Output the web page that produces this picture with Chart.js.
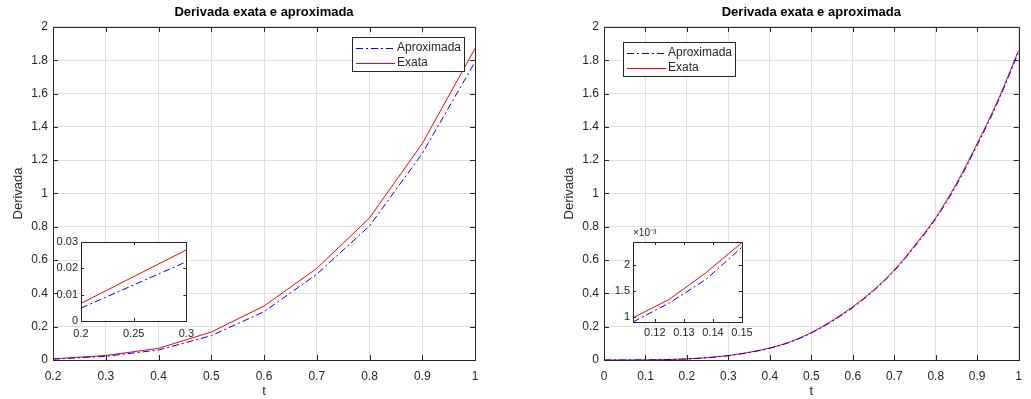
<!DOCTYPE html>
<html>
<head>
<meta charset="utf-8">
<script src="https://cdn.jsdelivr.net/npm/chart.js@4.4.0/dist/chart.umd.min.js"></script>
<style>
  body { margin: 0; background: #fff; width: 1031px; height: 399px; position: relative; overflow: hidden; }
  canvas { position: absolute; }
</style>
</head>
<body>
<canvas id="mainL" width="515" height="399" style="left:0;top:0"></canvas>
<canvas id="mainR" width="516" height="399" style="left:515px;top:0"></canvas>
<canvas id="insetL" width="160" height="108" style="left:40px;top:232px"></canvas>
<canvas id="insetR" width="170" height="116" style="left:590px;top:222px"></canvas>
<script>
// left plot: coarse step
const tCoarse = [0.2, 0.3, 0.4, 0.5, 0.6, 0.7, 0.8, 0.9, 1.0];
const exactCoarse = [0.0067, 0.027, 0.07, 0.168, 0.324, 0.55, 0.853, 1.30, 1.87];
const approxCoarse = [0.0049, 0.0225, 0.06, 0.146, 0.29, 0.515, 0.805, 1.24, 1.79];

// right plot: fine step
const tFine = [0, 0.05, 0.1, 0.15, 0.2, 0.25, 0.3, 0.35, 0.4, 0.45, 0.5,
               0.55, 0.6, 0.65, 0.7, 0.75, 0.8, 0.85, 0.9, 0.95, 1.0];
const exactFine = [0, 0.00006, 0.0007, 0.0026, 0.0067, 0.0145, 0.027, 0.046, 0.072, 0.11, 0.165,
                   0.236, 0.32, 0.42, 0.54, 0.69, 0.855, 1.06, 1.30, 1.56, 1.86];
const approxFine = [0, 0.00005, 0.0006, 0.0024, 0.0063, 0.014, 0.026, 0.045, 0.071, 0.108, 0.162,
                    0.232, 0.315, 0.415, 0.535, 0.683, 0.848, 1.05, 1.29, 1.55, 1.85];

// zoomed window of the right plot
const tZoom = [0.1125, 0.125, 0.1375, 0.15];
const exactZoom = [0.00098, 0.00134, 0.00185, 0.00244];
const approxZoom = [0.00090, 0.00127, 0.00172, 0.00235];

const xTicksL = [0.2, 0.3, 0.4, 0.5, 0.6, 0.7, 0.8, 0.9, 1];
const xTicksR = [0, 0.1, 0.2, 0.3, 0.4, 0.5, 0.6, 0.7, 0.8, 0.9, 1];
const yTicksMain = [0, 0.2, 0.4, 0.6, 0.8, 1, 1.2, 1.4, 1.6, 1.8, 2];

const FONT = "'Liberation Sans', Arial, sans-serif";
const AX = '#262626';
const GRID = '#e0e0e0';
const DASHDOT = [7, 3, 2, 3];

function pts(xs, ys) { return xs.map((x, i) => ({ x, y: ys[i] })); }
const plain = v => String(Math.round(v * 10000) / 10000);

function series(xs, exact, approx, smooth) {
  return [
    { label: 'Aproximada', data: pts(xs, approx), borderColor: '#0000ff', borderWidth: 1,
      borderDash: DASHDOT, pointRadius: 0, cubicInterpolationMode: smooth ? 'monotone' : 'default', tension: 0 },
    { label: 'Exata', data: pts(xs, exact), borderColor: '#ff0000', borderWidth: 1,
      pointRadius: 0, cubicInterpolationMode: smooth ? 'monotone' : 'default', tension: 0 }
  ];
}

// white plot area, inward ticks and a full box, like matlab axes
const framePlugin = {
  id: 'frame',
  beforeDraw(c) {
    const a = c.chartArea, ctx = c.ctx;
    ctx.save();
    ctx.fillStyle = '#fff';
    ctx.fillRect(a.left, a.top, a.right - a.left, a.bottom - a.top);
    ctx.restore();
  },
  afterDraw(c, args, o) {
    const a = c.chartArea, ctx = c.ctx, len = o.tick || 5;
    ctx.save();
    ctx.strokeStyle = AX;
    ctx.lineWidth = 1;
    ctx.beginPath();
    c.scales.x.ticks.forEach(t => {
      const p = Math.round(c.scales.x.getPixelForValue(t.value)) + 0.5;
      ctx.moveTo(p, a.bottom); ctx.lineTo(p, a.bottom - len);
      ctx.moveTo(p, a.top); ctx.lineTo(p, a.top + len);
    });
    c.scales.y.ticks.forEach(t => {
      const p = Math.round(c.scales.y.getPixelForValue(t.value)) + 0.5;
      ctx.moveTo(a.left, p); ctx.lineTo(a.left + len, p);
      ctx.moveTo(a.right, p); ctx.lineTo(a.right - len, p);
    });
    ctx.stroke();
    ctx.strokeRect(Math.round(a.left) + 0.5, Math.round(a.top) + 0.5,
                   Math.round(a.right - a.left), Math.round(a.bottom - a.top));
    if (o.exponent) {
      ctx.fillStyle = AX;
      ctx.font = '10px ' + FONT;
      ctx.textBaseline = 'middle';
      ctx.fillText(o.exponent, a.left, a.top - 9);
    }
    ctx.restore();
  }
};

// boxed legend inside the axes
const boxLegend = {
  id: 'boxLegend',
  afterDraw(c, args, o) {
    if (!o.show) return;
    const a = c.chartArea, ctx = c.ctx;
    const w = 112, h = 34;
    const x0 = o.side === 'right' ? Math.round(a.right - o.dx - w) : Math.round(a.left + o.dx);
    const y0 = Math.round(a.top + o.dy);
    ctx.save();
    ctx.fillStyle = '#fff';
    ctx.fillRect(x0, y0, w, h);
    ctx.strokeStyle = AX;
    ctx.lineWidth = 1;
    ctx.strokeRect(x0 + 0.5, y0 + 0.5, w, h);
    ctx.font = '12px ' + FONT;
    ctx.textBaseline = 'middle';
    c.data.datasets.forEach((ds, i) => {
      const y = y0 + 10.5 + i * 15.5;
      ctx.strokeStyle = ds.borderColor;
      ctx.setLineDash(ds.borderDash || []);
      ctx.beginPath();
      ctx.moveTo(x0 + 4, Math.round(y) + 0.5);
      ctx.lineTo(x0 + 43, Math.round(y) + 0.5);
      ctx.stroke();
      ctx.setLineDash([]);
      ctx.fillStyle = AX;
      ctx.fillText(ds.label, x0 + 45, y);
    });
    ctx.restore();
  }
};

function mainChart(id, xs, exact, approx, smooth, xticks, padL, padR, legend) {
  return new Chart(document.getElementById(id), {
    type: 'line',
    data: { datasets: series(xs, exact, approx, smooth) },
    plugins: [framePlugin, boxLegend],
    options: {
      responsive: false, animation: false, devicePixelRatio: 1,
      layout: { padding: { left: padL, right: padR, top: 0, bottom: 0 } },
      plugins: {
        legend: { display: false },
        tooltip: { enabled: false },
        title: { display: true, text: 'Derivada exata e aproximada', fullSize: false, color: '#000',
                 font: { family: FONT, size: 13, weight: 'bold', lineHeight: 1.15 },
                 padding: { top: 5, bottom: 7 } },
        frame: { tick: 5 },
        boxLegend: legend
      },
      scales: {
        x: {
          type: 'linear', min: xticks[0], max: 1,
          afterBuildTicks: s => { s.ticks = xticks.map(v => ({ value: v })); },
          afterFit: s => { s.height = 39; },
          grid: { color: GRID, drawTicks: false },
          border: { display: false },
          ticks: { color: AX, padding: 9, font: { family: FONT, size: 12 }, callback: plain },
          title: { display: true, text: 't', color: AX, font: { family: FONT, size: 13 }, padding: { top: 0, bottom: 0 } }
        },
        y: {
          type: 'linear', min: 0, max: 2,
          afterBuildTicks: s => { s.ticks = yTicksMain.map(v => ({ value: v })); },
          afterFit: s => { s.width = 53; },
          grid: { color: GRID, drawTicks: false },
          border: { display: false },
          ticks: { color: AX, padding: 5, font: { family: FONT, size: 12 }, callback: plain },
          title: { display: true, text: 'Derivada', color: AX, font: { family: FONT, size: 13 }, padding: { top: 11, bottom: 0 } }
        }
      }
    }
  });
}

function insetChart(id, xs, exact, approx, opt) {
  return new Chart(document.getElementById(id), {
    type: 'line',
    data: { datasets: series(xs, exact, approx, false) },
    plugins: [framePlugin],
    options: {
      responsive: false, animation: false, devicePixelRatio: 1,
      layout: { padding: { left: 0, right: opt.padR, top: opt.padT, bottom: 0 } },
      plugins: {
        legend: { display: false }, tooltip: { enabled: false }, title: { display: false },
        frame: { tick: 3, exponent: opt.exponent }
      },
      scales: {
        x: {
          type: 'linear', min: opt.xmin, max: opt.xmax,
          afterBuildTicks: s => { s.ticks = opt.xticks.map(v => ({ value: v })); },
          afterFit: s => { s.height = opt.xh; },
          grid: { display: false, drawTicks: false },
          border: { display: false },
          ticks: { color: AX, padding: opt.xpad, font: { family: FONT, size: 11 }, callback: plain }
        },
        y: {
          type: 'linear', min: opt.ymin, max: opt.ymax,
          afterBuildTicks: s => { s.ticks = opt.yticks.map(v => ({ value: v })); },
          afterFit: s => { s.width = opt.yw; },
          grid: { display: false, drawTicks: false },
          border: { display: false },
          ticks: { color: AX, padding: 3, font: { family: FONT, size: 11 },
                   callback: opt.yfmt || plain }
        }
      }
    }
  });
}

mainChart('mainL', tCoarse, exactCoarse, approxCoarse, false, xTicksL, 0, 40,
  { show: true, side: 'right', dx: 11, dy: 10 });
mainChart('mainR', tFine, exactFine, approxFine, true, xTicksR, 36, 3,
  { show: true, side: 'left', dx: 19, dy: 15 });

insetChart('insetL', tCoarse, exactCoarse, approxCoarse, {
  xmin: 0.2, xmax: 0.3, ymin: 0, ymax: 0.03,
  xticks: [0.2, 0.25, 0.3], yticks: [0, 0.01, 0.02, 0.03],
  padR: 12, padT: 10, xh: 19, yw: 41, xpad: 6
});
insetChart('insetR', tZoom, exactZoom, approxZoom, {
  xmin: 0.1125, xmax: 0.15, ymin: 0.0009, ymax: 0.00245,
  xticks: [0.12, 0.13, 0.14, 0.15], yticks: [0.001, 0.0015, 0.002],
  yfmt: v => String(Math.round(v * 10000) / 10),
  padR: 18, padT: 20, xh: 16, yw: 43, xpad: 4, exponent: '×10⁻³'
});
</script>
</body>
</html>
